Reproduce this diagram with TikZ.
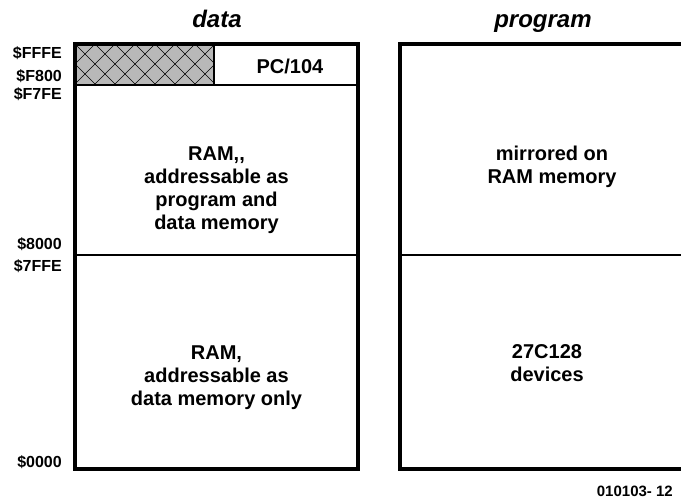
\documentclass[tikz,border=0pt]{standalone}
\usepackage{fontspec}
\setmainfont{Liberation Sans}
\usetikzlibrary{calc}

\tikzset{
	frame/.style={line width=3.5pt, line join=miter},
	divider/.style={line width=1.8pt},
	hatchline/.style={line width=0.6pt},
	addrlabel/.style={anchor=base east, inner sep=0pt, font=\bfseries\fontsize{16}{16}\selectfont},
	areatext/.style={anchor=base, inner sep=0pt, align=center, font=\bfseries\fontsize{20}{23}\selectfont},
	title/.style={anchor=base, inner sep=0pt, font=\bfseries\itshape\fontsize{24}{24}\selectfont}
}
\definecolor{hatchgray}{gray}{0.72}

\newcommand{\addr}[3] % node name, y in px, address
{
	\node[addrlabel] (#1) at (62,#2) {#3};
}

\begin{document}
\begin{tikzpicture}[x=1pt, y=-1pt]
	% 681 x 502 px, y counts downwards
	\useasboundingbox (0,0) rectangle (681,502);
	% titles
	\node[title] (tdata) at (217,28) {data};
	\node[title] (tprog) at (543,28) {program};
	% reserved part of the data map
	\begin{scope}
		\clip (75,44) rectangle (214,85);
		\fill[hatchgray] (75,44) rectangle (214,85);
		\foreach \k in {-3,...,9}
		{
			\draw[hatchline] (75+20*\k,44) -- ++(42,42);
			\draw[hatchline] (75+20*\k,44) -- ++(-42,42);
		}
	\end{scope}
	% data memory map
	\draw[divider] (75,85) -- (358,85);
	\draw[divider] (214,44) -- (214,85);
	\draw[divider] (75,255) -- (358,255);
	\draw[frame] (75,44) rectangle (358,469);
	% program memory map
	\draw[divider] (400,255) -- (690,255);
	\draw[frame] (400,44) rectangle (690,469);
	% area texts (base = last line)
	\node[areatext] (pc) at (290,74) {PC/104};
	\node[areatext] (ramhi) at (216.5,230) {RAM,{},\\addressable as\\program and\\data memory};
	\node[areatext] (ramlo) at (216.5,406) {RAM,\\addressable as\\data memory only};
	\node[areatext] (mirror) at (552,184) {mirrored on\\RAM memory};
	\node[areatext] (eprom) at (547,382) {27C128\\devices};
	% addresses
	\addr{aFFFE}{59}{\$FFFE}
	\addr{aF800}{82}{\$F800}
	\addr{aF7FE}{100}{\$F7FE}
	\addr{a8000}{250}{\$8000}
	\addr{a7FFE}{272}{\$7FFE}
	\addr{a0000}{468}{\$0000}
	% figure number
	\node[anchor=base east, inner sep=0pt, font=\bfseries\fontsize{15}{15}\selectfont] (fig) at (673,497) {010103- 12};
\end{tikzpicture}
\end{document}
